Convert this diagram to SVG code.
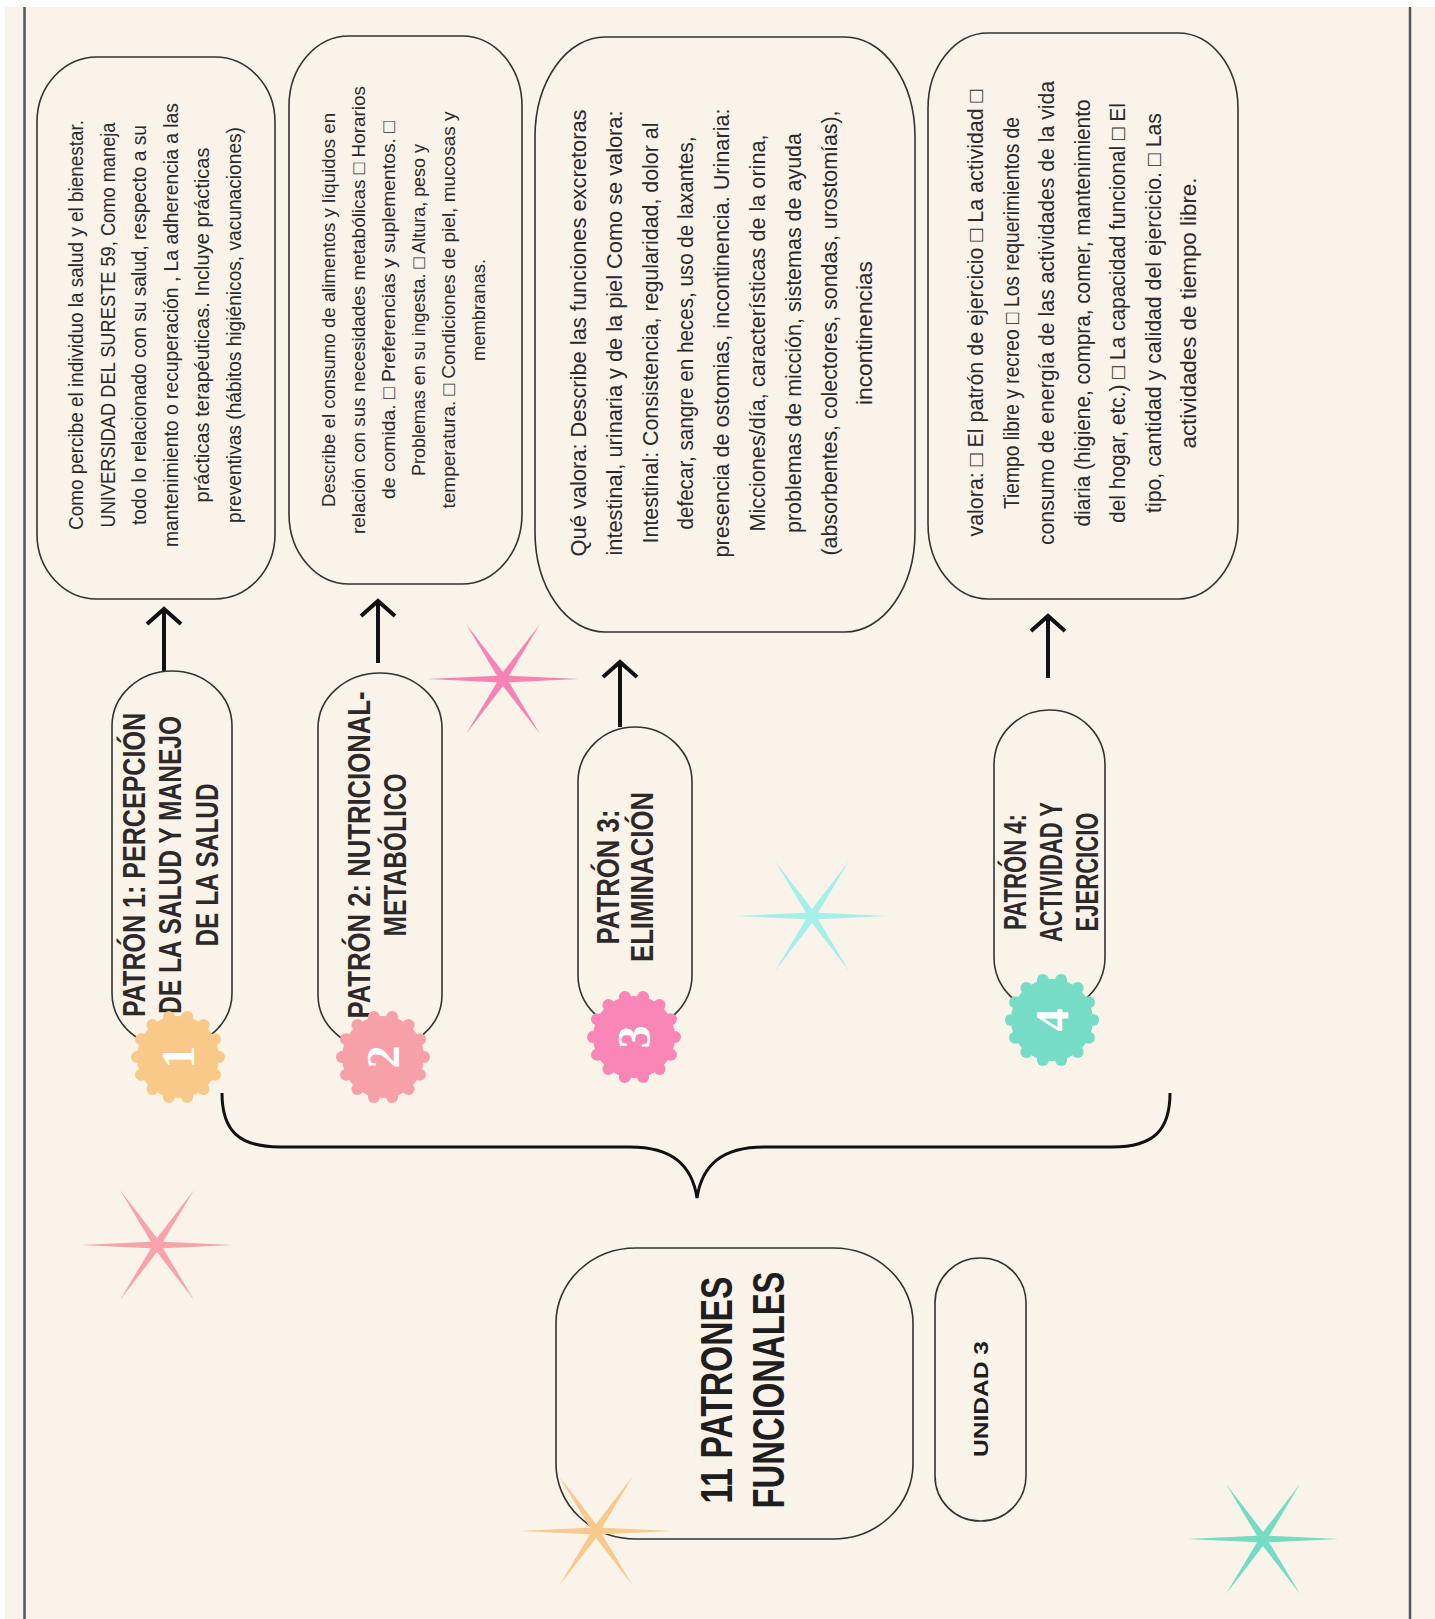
<svg xmlns="http://www.w3.org/2000/svg" xmlns:xlink="http://www.w3.org/1999/xlink" width="1435" height="1619" viewBox="0 0 1435 1619">
<defs>
<style>
.bg{fill:#f9f3ea}
.frame{stroke:#555;stroke-width:2.5;fill:none}
.box{fill:none;stroke:#333;stroke-width:1.6}
.desc{font-family:"Liberation Sans",Arial,"DejaVu Sans",sans-serif;fill:#2a2a2a;text-anchor:middle}
.pt{font-family:"Liberation Sans",Arial,sans-serif;font-weight:bold;fill:#2e2929;text-anchor:middle}
.num{font-family:"Liberation Serif","DejaVu Serif",serif;font-weight:bold;fill:#fff;text-anchor:middle;font-size:46px}
.conn{stroke:#111;stroke-width:4;fill:none}
.brace{stroke:#111;stroke-width:3;fill:none}
</style>
<marker id="chev" markerUnits="userSpaceOnUse" markerWidth="40" markerHeight="40" refX="0" refY="0" orient="auto" style="overflow:visible">
<path d="M-15,-17 L0,0 L-15,17" fill="none" stroke="#111" stroke-width="4"/>
</marker>
<polygon id="star" points="76,0 6,3.2 37,55 0,7 -37,55 -6,3.2 -76,0 -6,-3.2 -37,-55 0,-7 37,-55 6,-3.2"/>
<g id="badge">
<circle r="41"/>
<circle cx="41" cy="0" r="6"/><circle cx="36.94" cy="17.79" r="6"/><circle cx="25.56" cy="32.05" r="6"/><circle cx="9.12" cy="39.97" r="6"/>
<circle cx="-9.12" cy="39.97" r="6"/><circle cx="-25.56" cy="32.05" r="6"/><circle cx="-36.94" cy="17.79" r="6"/><circle cx="-41" cy="0" r="6"/>
<circle cx="-36.94" cy="-17.79" r="6"/><circle cx="-25.56" cy="-32.05" r="6"/><circle cx="-9.12" cy="-39.97" r="6"/><circle cx="9.12" cy="-39.97" r="6"/>
<circle cx="25.56" cy="-32.05" r="6"/><circle cx="36.94" cy="-17.79" r="6"/>
</g>
</defs>

<rect x="0" y="0" width="1435" height="1619" fill="#fff"/>
<rect class="bg" x="5" y="7" width="1430" height="1612"/>
<line class="frame" x1="24.5" y1="7" x2="24.5" y2="1619"/>
<line class="frame" x1="1410" y1="7" x2="1410" y2="1619"/>

<g id="stars">
<use xlink:href="#star" href="#star" fill="#f783b5" transform="translate(503,679)"/>
<use xlink:href="#star" href="#star" fill="#a5efe9" transform="translate(812,916)"/>
<use xlink:href="#star" href="#star" fill="#f7a3a9" transform="translate(157,1245)"/>
<use xlink:href="#star" href="#star" fill="#75dcc4" transform="translate(1263,1539)"/>
</g>

<g id="connectors">
<line class="conn" x1="164" y1="671" x2="164" y2="609" marker-end="url(#chev)"/>
<line class="conn" x1="378" y1="663" x2="378" y2="601" marker-end="url(#chev)"/>
<line class="conn" x1="620" y1="727" x2="620" y2="662" marker-end="url(#chev)"/>
<line class="conn" x1="1048" y1="678" x2="1048" y2="616" marker-end="url(#chev)"/>
<path class="brace" d="M222,1093 C222,1130 238,1147 280,1147 L630,1147 C672,1147 692,1165 697,1198 C702,1165 722,1147 764,1147 L1112,1147 C1154,1147 1170,1130 1170,1093"/>
</g>

<g id="box1">
<rect class="box" x="37" y="57" width="238" height="542" rx="60" ry="65"/>
<g class="desc" font-size="20" transform="translate(0,325) rotate(-90)">
<text x="0" y="83" textLength="410" lengthAdjust="spacingAndGlyphs">Como percibe el individuo la salud y el bienestar.</text>
<text x="0" y="114.5" textLength="405" lengthAdjust="spacingAndGlyphs">UNIVERSIDAD DEL SURESTE 59, Como maneja</text>
<text x="0" y="146" textLength="400" lengthAdjust="spacingAndGlyphs">todo lo relacionado con su salud, respecto a su</text>
<text x="0" y="177.5" textLength="444" lengthAdjust="spacingAndGlyphs">mantenimiento o recuperación , La adherencia a las</text>
<text x="0" y="209" textLength="355" lengthAdjust="spacingAndGlyphs">prácticas terapéuticas. Incluye prácticas</text>
<text x="0" y="240.5" textLength="396" lengthAdjust="spacingAndGlyphs">preventivas (hábitos higiénicos, vacunaciones)</text>
</g>
</g>

<g id="box2">
<rect class="box" x="289" y="36" width="233" height="548" rx="60" ry="70"/>
<g class="desc" font-size="19" transform="translate(0,310) rotate(-90)">
<text x="0" y="335" textLength="394" lengthAdjust="spacingAndGlyphs">Describe el consumo de alimentos y líquidos en</text>
<text x="0" y="365" textLength="448" lengthAdjust="spacingAndGlyphs">relación con sus necesidades metabólicas □ Horarios</text>
<text x="0" y="395" textLength="378" lengthAdjust="spacingAndGlyphs">de comida. □ Preferencias y suplementos. □</text>
<text x="0" y="425" textLength="332" lengthAdjust="spacingAndGlyphs">Problemas en su ingesta. □ Altura, peso y</text>
<text x="0" y="455" textLength="397" lengthAdjust="spacingAndGlyphs">temperatura. □ Condiciones de piel, mucosas y</text>
<text x="0" y="485" textLength="102" lengthAdjust="spacingAndGlyphs">membranas.</text>
</g>
</g>

<g id="box3">
<rect class="box" x="535" y="37" width="380" height="595" rx="70" ry="100"/>
<g class="desc" font-size="22" transform="translate(0,333) rotate(-90)">
<text x="0" y="586" textLength="447" lengthAdjust="spacingAndGlyphs">Qué valora: Describe las funciones excretoras</text>
<text x="0" y="622" textLength="445" lengthAdjust="spacingAndGlyphs">intestinal, urinaria y de la piel Como se valora:</text>
<text x="0" y="658" textLength="421" lengthAdjust="spacingAndGlyphs">Intestinal: Consistencia, regularidad, dolor al</text>
<text x="0" y="693" textLength="393" lengthAdjust="spacingAndGlyphs">defecar, sangre en heces, uso de laxantes,</text>
<text x="0" y="729" textLength="449" lengthAdjust="spacingAndGlyphs">presencia de ostomias, incontinencia. Urinaria:</text>
<text x="0" y="765" textLength="397" lengthAdjust="spacingAndGlyphs">Micciones/día, características de la orina,</text>
<text x="0" y="801" textLength="400" lengthAdjust="spacingAndGlyphs">problemas de micción, sistemas de ayuda</text>
<text x="0" y="837" textLength="445" lengthAdjust="spacingAndGlyphs">(absorbentes, colectores, sondas, urostomías),</text>
<text x="0" y="872" textLength="144" lengthAdjust="spacingAndGlyphs">incontinencias</text>
</g>
</g>

<g id="box4">
<rect class="box" x="928" y="33" width="310" height="566" rx="60" ry="75"/>
<g class="desc" font-size="22" transform="translate(0,313) rotate(-90)">
<text x="0" y="983" textLength="447" lengthAdjust="spacingAndGlyphs">valora: □ El patrón de ejercicio □ La actividad □</text>
<text x="0" y="1018.5" textLength="392" lengthAdjust="spacingAndGlyphs">Tiempo libre y recreo □ Los requerimientos de</text>
<text x="0" y="1054" textLength="464" lengthAdjust="spacingAndGlyphs">consumo de energía de las actividades de la vida</text>
<text x="0" y="1089.5" textLength="427" lengthAdjust="spacingAndGlyphs">diaria (higiene, compra, comer, mantenimiento</text>
<text x="0" y="1125" textLength="420" lengthAdjust="spacingAndGlyphs">del hogar, etc.) □ La capacidad funcional □ El</text>
<text x="0" y="1160.5" textLength="400" lengthAdjust="spacingAndGlyphs">tipo, cantidad y calidad del ejercicio. □ Las</text>
<text x="0" y="1196" textLength="271" lengthAdjust="spacingAndGlyphs">actividades de tiempo libre.</text>
</g>
</g>

<g id="patron1">
<rect class="box" x="112" y="671" width="120" height="377" rx="60" ry="55"/>
<g class="pt" font-size="31" transform="translate(0,865) rotate(-90)">
<text x="0" y="145" textLength="304" lengthAdjust="spacingAndGlyphs">PATRÓN 1: PERCEPCIÓN</text>
<text x="0" y="181" textLength="298" lengthAdjust="spacingAndGlyphs">DE LA SALUD Y MANEJO</text>
<text x="0" y="218" textLength="163" lengthAdjust="spacingAndGlyphs">DE LA SALUD</text>
</g>
<use xlink:href="#badge" href="#badge" fill="#f9c98a" transform="translate(178,1057)"/>
<text class="num" transform="translate(178,1057) rotate(-90)" x="0" y="16">1</text>
</g>

<g id="patron2">
<rect class="box" x="318" y="673" width="124" height="377" rx="62" ry="55"/>
<g class="pt" font-size="31" transform="translate(0,855) rotate(-90)">
<text x="0" y="370" textLength="327" lengthAdjust="spacingAndGlyphs">PATRÓN 2: NUTRICIONAL-</text>
<text x="0" y="406" textLength="163" lengthAdjust="spacingAndGlyphs">METABÓLICO</text>
</g>
<use xlink:href="#badge" href="#badge" fill="#f7a0a8" transform="translate(383,1057)"/>
<text class="num" transform="translate(383,1057) rotate(-90)" x="0" y="16">2</text>
</g>

<g id="patron3">
<rect class="box" x="578" y="727" width="114" height="303" rx="57" ry="55"/>
<g class="pt" font-size="31" transform="translate(0,877) rotate(-90)">
<text x="0" y="619" textLength="135" lengthAdjust="spacingAndGlyphs">PATRÓN 3:</text>
<text x="0" y="653" textLength="170" lengthAdjust="spacingAndGlyphs">ELIMINACIÓN</text>
</g>
<use xlink:href="#badge" href="#badge" fill="#f986b5" transform="translate(634,1037)"/>
<text class="num" transform="translate(634,1037) rotate(-90)" x="0" y="16">3</text>
</g>

<g id="patron4">
<rect class="box" x="994" y="710" width="111" height="302" rx="55" ry="55"/>
<g class="pt" font-size="31" transform="translate(0,872) rotate(-90)">
<text x="0" y="1026" textLength="116" lengthAdjust="spacingAndGlyphs">PATRÓN 4:</text>
<text x="0" y="1062" textLength="140" lengthAdjust="spacingAndGlyphs">ACTIVIDAD Y</text>
<text x="0" y="1098" textLength="119" lengthAdjust="spacingAndGlyphs">EJERCICIO</text>
</g>
<use xlink:href="#badge" href="#badge" fill="#76dcc5" transform="translate(1052,1020)"/>
<text class="num" transform="translate(1052,1020) rotate(-90)" x="0" y="16">4</text>
</g>

<g id="title">
<rect class="box" x="556" y="1248" width="357" height="291" rx="80" ry="75"/>
<g class="pt" font-size="44" transform="translate(0,1390) rotate(-90)">
<text x="0" y="732" textLength="227" lengthAdjust="spacingAndGlyphs" style="fill:#1e1e1e">11 PATRONES</text>
<text x="0" y="784" textLength="237" lengthAdjust="spacingAndGlyphs" style="fill:#1e1e1e">FUNCIONALES</text>
</g>
</g>

<use xlink:href="#star" href="#star" fill="#f8c98c" transform="translate(596,1531)"/>

<g id="unidad">
<rect class="box" x="935" y="1258" width="91" height="263" rx="45" ry="45"/>
<text class="pt" font-size="21" transform="translate(0,1399) rotate(-90)" x="0" y="988" textLength="116" lengthAdjust="spacingAndGlyphs" style="fill:#1e1e1e">UNIDAD 3</text>
</g>
</svg>
